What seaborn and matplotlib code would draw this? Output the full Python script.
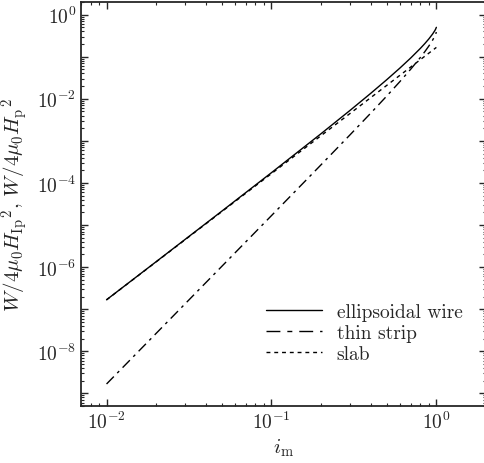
import numpy as np
import pandas as pd
import matplotlib
matplotlib.use("Agg")
from matplotlib import pyplot as plt
from matplotlib import ticker
from matplotlib.lines import Line2D
import seaborn as sns

sns.set_style("ticks")
plt.rcParams["font.family"] = "serif"
plt.rcParams["font.serif"] = ["cmr10", "DejaVu Serif"]
plt.rcParams["mathtext.fontset"] = "cm"
plt.rcParams["axes.formatter.use_mathtext"] = True
plt.rcParams["font.size"] = 14

# normalised current amplitude
i_m = [0.01, 0.02, 0.05, 0.1, 0.2, 0.3, 0.4, 0.5, 0.6, 0.7, 0.8, 0.85, 0.9, 0.95, 0.98, 0.99, 1.0]

# loss
w_ellipse = [1.675e-7, 1.347e-6, 2.137e-5, 1.755e-4, 1.485e-3, 5.328e-3, 1.350e-2, 2.843e-2,
             5.348e-2, 9.381e-2, 0.1581, 0.2042, 0.2647, 0.3490, 0.4216, 0.4539, 0.5]
w_strip = [1.667e-9, 2.667e-8, 1.043e-6, 1.673e-5, 2.710e-4, 1.401e-3, 4.566e-3, 1.162e-2,
           2.549e-2, 5.088e-2, 9.613e-2, 0.1310, 0.1793, 0.2500, 0.3139, 0.3432, 0.3863]
w_slab = [1.667e-7, 1.333e-6, 2.083e-5, 1.667e-4, 1.333e-3, 4.500e-3, 1.067e-2, 2.083e-2,
          3.600e-2, 5.717e-2, 8.533e-2, 0.1024, 0.1215, 0.1429, 0.1569, 0.1617, 0.1667]

labels = ["ellipsoidal wire", "thin strip", "slab"]

df = pd.DataFrame({
    "i_m": i_m * 3,
    "W": w_ellipse + w_strip + w_slab,
    "geometry": [labels[0]] * len(i_m) + [labels[1]] * len(i_m) + [labels[2]] * len(i_m),
})

fig = plt.figure(figsize=(4.85, 4.64), dpi=100)
ax = fig.add_axes([81 / 485, 1 - 407 / 464, 405 / 485, 404 / 464])

dash_styles = {labels[0]: "", labels[1]: (7.5, 3.5, 2, 3.5), labels[2]: (2.8, 2.8)}
sns.lineplot(data=df, x="i_m", y="W", style="geometry", dashes=dash_styles,
             color="k", linewidth=1.0, ax=ax, legend=False, estimator=None, sort=False)

ax.set_xscale("log")
ax.set_yscale("log")
ax.set_xlim(0.007, 2)
ax.set_ylim(5e-10, 2)

ax.yaxis.set_major_locator(ticker.LogLocator(base=10, numticks=30))
ax.yaxis.set_minor_locator(ticker.LogLocator(base=10, subs=np.arange(2, 10), numticks=30))
ax.yaxis.set_major_formatter(ticker.FuncFormatter(
    lambda v, p: r"$10^{%d}$" % round(np.log10(v)) if round(np.log10(v)) % 2 == 0 else ""))
ax.yaxis.set_minor_formatter(ticker.NullFormatter())
ax.xaxis.set_major_locator(ticker.LogLocator(base=10, numticks=30))
ax.xaxis.set_minor_locator(ticker.LogLocator(base=10, subs=np.arange(2, 10), numticks=30))
ax.xaxis.set_minor_formatter(ticker.NullFormatter())

ax.tick_params(which="both", direction="in", top=True, right=True, labelsize=14)
ax.tick_params(which="major", length=5, width=1)
ax.tick_params(which="minor", length=2.5, width=0.8)
for s in ax.spines.values():
    s.set_linewidth(1.3)

ax.set_xlabel(r"$i_\mathrm{m}$", fontsize=15, labelpad=3)
ax.set_ylabel(r"$W/4\mu_0{H_\mathrm{Ip}}^2$, $W/4\mu_0{H_\mathrm{p}}^2$", fontsize=15, labelpad=5)

handles = [
    Line2D([], [], color="k", lw=1.0, linestyle="-"),
    Line2D([], [], color="k", lw=1.0, linestyle=(0, (10, 5, 3.6, 5))),
    Line2D([], [], color="k", lw=1.0, linestyle=(0, (2.8, 2.8))),
]
ax.legend(handles, labels, loc="lower right", bbox_to_anchor=(0.985, 0.063), frameon=False,
          handlelength=2.9, handletextpad=0.75, labelspacing=0.15, fontsize=14)

plt.savefig("out.png", dpi=100)
